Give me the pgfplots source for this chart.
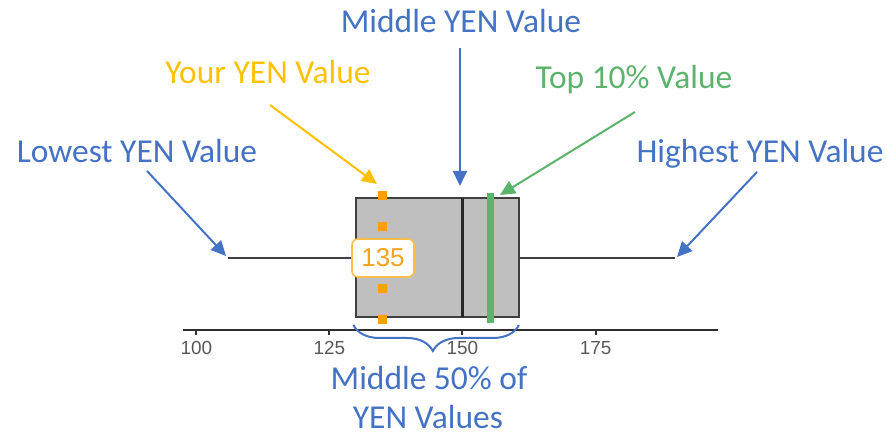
\documentclass[border=0pt]{standalone}
\usepackage{pgfplots}
\pgfplotsset{compat=1.18}
\usepgfplotslibrary{statistics}
\usetikzlibrary{arrows.meta,decorations.pathreplacing}
\usepackage{fontspec}
\setmainfont{Carlito}
\newfontfamily\arialf{Liberation Sans}
\definecolor{oblue}{HTML}{4472C4}
\definecolor{oyellow}{HTML}{FFC000}
\definecolor{ogreen}{HTML}{5BB36C}
\definecolor{sqorange}{HTML}{FFA000}
\definecolor{txtorange}{HTML}{F7A21B}
\definecolor{lblorange}{HTML}{FFBF4A}
\definecolor{boxgray}{HTML}{BFBFBF}
\definecolor{edgegray}{HTML}{404040}
\definecolor{axgray}{HTML}{2E2E2E}
\definecolor{tickgray}{HTML}{595959}
\begin{document}
\begin{tikzpicture}
\begin{axis}[
  scale only axis, width=535bp, height=140bp,
  xmin=97.5, xmax=198, ymin=109, ymax=249,
  axis x line=bottom, axis y line=none,
  axis line style={-, line width=2.6bp, draw=axgray},
  xtick={100,125,150,175},
  tick align=outside, major tick length=5bp,
  xtick style={draw=axgray, line width=2bp},
  xticklabel style={font=\arialf\fontsize{19}{21}\selectfont, text=tickgray, yshift=-3bp},
  /pgf/number format/assume math mode=true,
  clip=false,
  boxplot/draw direction=x,
]
\addplot[boxplot prepared={lower whisker=106, lower quartile=130, median=150,
   upper quartile=160.6, upper whisker=190, draw position=181, box extend=119,
   whisker extend=0},
   draw=edgegray, fill=boxgray, line width=2bp,
   boxplot/every median/.style={line width=3.2bp, draw=black!85}]
   coordinates {};
\addplot[ogreen, line width=7bp] coordinates {(155.3,116) (155.3,246)};
\addplot[only marks, mark=square*, mark size=4, color=sqorange]
   coordinates {(135,244) (135,213) (135,151) (135,120)};
\node[draw=lblorange, line width=1.6bp, rounded corners=6bp, fill=white,
   minimum width=62bp, minimum height=38bp, inner sep=0pt,
   font=\arialf\fontsize{26}{26}\selectfont, text=txtorange]
   at (axis cs:135.07,181) {135};
% brace
\draw[oblue, line width=2bp, decorate,
   decoration={brace, mirror, amplitude=26bp, aspect=0.48}]
   (axis cs:129.5,114) -- (axis cs:160.6,114);
% arrows
\begin{scope}[line width=2bp, -{Triangle[length=15bp,width=14bp]}]
\draw[oyellow] (axis cs:113.84,334) -- (axis cs:133.94,255);
\draw[oblue] (axis cs:149.53,391) -- (axis cs:149.53,253);
\draw[ogreen] (axis cs:182.41,327) -- (axis cs:157.05,244);
\draw[oblue] (axis cs:90.74,268) -- (axis cs:105.58,183);
\draw[oblue] (axis cs:205.33,267) -- (axis cs:190.30,182);
\end{scope}
% texts
\begin{scope}[every node/.style={anchor=base, inner sep=0pt, font=\fontsize{33.6}{42}\selectfont}]
\node[text=oblue] at (axis cs:149.72,406) {Middle YEN Value};
\node[text=oyellow] at (axis cs:113.47,355) {Your YEN Value};
\node[text=ogreen] at (axis cs:182.22,350) {Top 10\% Value};
\node[text=oblue] at (axis cs:88.86,276) {Lowest YEN Value};
\node[text=oblue] at (axis cs:205.89,276) {Highest YEN Value};
\node[text=oblue] at (axis cs:143.71,49) {Middle 50\% of};
\node[text=oblue] at (axis cs:143.5,10) {YEN Values};
\end{scope}
\coordinate (BL) at (axis cs:63.12,0);
\coordinate (TR) at (axis cs:229.75,439);
\end{axis}
\pgfresetboundingbox
\path (BL) rectangle (TR);
\end{tikzpicture}
\end{document}
